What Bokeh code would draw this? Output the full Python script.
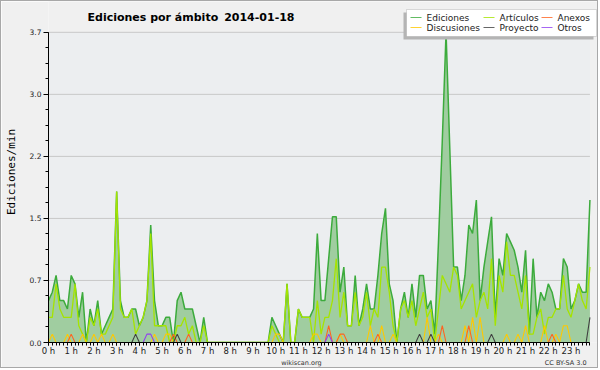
import numpy as np
from bokeh.plotting import figure
from bokeh.models import (FixedTicker, PrintfTickFormatter, Label, BoxAnnotation,
                          ColumnDataSource, LinearAxis)
from bokeh.embed import file_html
from bokeh.resources import INLINE

# ---------------- data (edits per minute, 10-minute bins) ----------------
title_text = "Ediciones por ámbito"
title_date = "2014-01-18"
y_label_text = "Ediciones/min"
credit_texts = ["wikiscan.org", "CC BY-SA 3.0"]
hour_labels = ["0 h", "1 h", "2 h", "3 h", "4 h", "5 h", "6 h", "7 h", "8 h", "9 h",
               "10 h", "11 h", "12 h", "13 h", "14 h", "15 h", "16 h", "17 h", "18 h",
               "19 h", "20 h", "21 h", "22 h", "23 h"]
y_tick_values = [0.0, 0.74, 1.48, 2.22, 2.96, 3.7]

ediciones = [
    0.5, 0.6, 0.8, 0.5, 0.5, 0.4,   # 0 h
    0.8, 0.7, 0.3, 0.6, 0.0, 0.4,   # 1 h
    0.2, 0.5, 0.1, 0.2, 0.3, 0.4,   # 2 h
    1.8, 0.5, 0.3, 0.3, 0.4, 0.4,   # 3 h
    0.2, 0.3, 0.5, 1.4, 0.5, 0.2,   # 4 h
    0.2, 0.3, 0.3, 0.0, 0.5, 0.6,   # 5 h
    0.4, 0.4, 0.4, 0.2, 0.0, 0.3,   # 6 h
    0.0, 0.0, 0.0, 0.0, 0.0, 0.0,   # 7 h
    0.0, 0.0, 0.0, 0.0, 0.0, 0.0,   # 8 h
    0.0, 0.0, 0.0, 0.0, 0.0, 0.3,   # 9 h
    0.2, 0.1, 0.0, 0.7, 0.0, 0.0,   # 10 h
    0.4, 0.3, 0.3, 0.3, 0.4, 1.3,   # 11 h
    0.5, 0.5, 1.0, 1.5, 1.5, 0.6,   # 12 h
    0.9, 0.2, 0.2, 0.8, 0.2, 0.4,   # 13 h
    0.7, 0.4, 0.4, 0.8, 1.3, 1.6,   # 14 h
    0.7, 0.5, 0.0, 0.4, 0.6, 0.3,   # 15 h
    0.7, 0.3, 0.8, 0.8, 0.4, 0.5,   # 16 h
    0.1, 1.2, 2.4, 3.7, 2.3, 0.9,   # 17 h
    0.9, 0.5, 0.8, 1.4, 1.3, 1.7,   # 18 h
    0.5, 0.9, 1.2, 1.5, 0.3, 1.0,   # 19 h
    0.8, 1.3, 1.2, 1.1, 0.9, 0.6,   # 20 h
    1.1, 0.1, 1.0, 0.3, 0.6, 0.5,   # 21 h
    0.7, 0.6, 0.4, 0.4, 1.0, 0.9,   # 22 h
    0.4, 0.5, 0.7, 0.6, 0.6, 1.7,   # 23 h
]

articulos = [
    0.3, 0.3, 0.7, 0.4, 0.3, 0.3,   # 0 h
    0.3, 0.7, 0.2, 0.1, 0.0, 0.3,   # 1 h
    0.2, 0.4, 0.1, 0.1, 0.2, 0.3,   # 2 h
    1.8, 0.4, 0.3, 0.3, 0.4, 0.1,   # 3 h
    0.2, 0.3, 0.5, 1.3, 0.2, 0.2,   # 4 h
    0.2, 0.2, 0.0, 0.0, 0.2, 0.2,   # 5 h
    0.3, 0.1, 0.2, 0.0, 0.0, 0.2,   # 6 h
    0.0, 0.0, 0.0, 0.0, 0.0, 0.0,   # 7 h
    0.0, 0.0, 0.0, 0.0, 0.0, 0.0,   # 8 h
    0.0, 0.0, 0.0, 0.0, 0.0, 0.2,   # 9 h
    0.1, 0.0, 0.0, 0.7, 0.0, 0.0,   # 10 h
    0.4, 0.3, 0.3, 0.3, 0.0, 0.5,   # 11 h
    0.1, 0.3, 0.3, 0.5, 1.0, 0.3,   # 12 h
    0.6, 0.2, 0.2, 0.6, 0.2, 0.3,   # 13 h
    0.6, 0.2, 0.4, 0.3, 0.9, 0.9,   # 14 h
    0.6, 0.2, 0.0, 0.4, 0.5, 0.3,   # 15 h
    0.5, 0.2, 0.4, 0.6, 0.3, 0.4,   # 16 h
    0.0, 0.4, 0.8, 0.7, 0.6, 0.9,   # 17 h
    0.8, 0.4, 0.5, 0.6, 0.7, 0.3,   # 18 h
    0.5, 0.6, 0.4, 1.0, 0.2, 0.8,   # 19 h
    0.6, 1.2, 0.8, 0.8, 0.6, 0.4,   # 20 h
    0.8, 0.1, 0.1, 0.3, 0.4, 0.1,   # 21 h
    0.3, 0.3, 0.4, 0.4, 0.8, 0.4,   # 22 h
    0.3, 0.5, 0.7, 0.5, 0.4, 0.9,   # 23 h
]

# sparse series: {bin index: edits/min}, all other bins are zero
discusiones_bins = {1: 0.1, 5: 0.1, 9: 0.1, 12: 0.1, 14: 0.1, 17: 0.1, 28: 0.1, 31: 0.1,
                    32: 0.1, 60: 0.1, 61: 0.1, 70: 0.1, 71: 0.1, 77: 0.1, 85: 0.2, 88: 0.2,
                    91: 0.1, 100: 0.3, 103: 0.1, 110: 0.2, 112: 0.3, 114: 0.3, 121: 0.1,
                    124: 0.1, 126: 0.2, 131: 0.2, 134: 0.1, 136: 0.2, 137: 0.2}
anexos_bins = {6: 0.1, 33: 0.1, 37: 0.1, 74: 0.2, 77: 0.1, 78: 0.1, 87: 0.1, 104: 0.2,
               111: 0.2, 133: 0.1}
proyecto_bins = {23: 0.1, 34: 0.1, 98: 0.1, 101: 0.1, 117: 0.1, 143: 0.3}
otros_bins = {26: 0.1, 27: 0.1, 74: 0.1}

n_bins = len(ediciones)
minutes = np.arange(n_bins) * 10
x_last = int(minutes[-1])
y_max = y_tick_values[-1]


def dense(d):
    arr = np.zeros(n_bins)
    for k, v in d.items():
        arr[k] = v
    return arr


discusiones = dense(discusiones_bins)
anexos = dense(anexos_bins)
proyecto = dense(proyecto_bins)
otros = dense(otros_bins)

# ---------------- layout (page pixels of the reference) ----------------
W, H = 598, 368            # canvas; a 1px CSS border completes 600x370
PX_LEFT, PX_RIGHT = 46, 589.4   # x of first / last bin
PY_ZERO, PY_TOP = 344, 32       # y of 0 and of y_max
frame_w = W + 1 - PX_LEFT       # frame reaches the right edge of the canvas
frame_h = PY_ZERO - 1           # frame reaches the top edge of the canvas
x_end = x_last * frame_w / (PX_RIGHT - PX_LEFT)
y_end = y_max * frame_h / (PY_ZERO - PY_TOP)

C_ED = "#3cab3c"
C_ED_FILL = "#a0cda0"
C_ART = "#a5e400"
C_DIS = "#ffc800"
C_ANE = "#ff6420"
C_PRO = "#404040"
C_OTR = "#9040f0"
C_BORDER = "#f0f0f0"
C_PLOT = "#eceef0"
FONT = "DejaVu Sans"

p = figure(width=W, height=H, output_backend="svg", toolbar_location=None,
           x_range=(0, x_end), y_range=(0, y_end),
           min_border_left=PX_LEFT - 1, min_border_right=0, min_border_top=0,
           min_border_bottom=H - frame_h,
           background_fill_color=C_BORDER, border_fill_color=C_BORDER,
           outline_line_color=None)
p.styles = {"border": "1px solid #a8a8a8"}

# plot area background and horizontal grid lines, limited to the data area
p.add_layout(BoxAnnotation(left=0, right=x_last, bottom=0, top=y_max, fill_color=C_PLOT,
                           fill_alpha=1.0, line_color=None, level="image"))
p.xgrid.visible = False
p.ygrid.visible = False
p.segment(x0=[0] * 5, x1=[x_last] * 5, y0=y_tick_values[1:], y1=y_tick_values[1:],
          line_color="#c8c8c8", line_width=1, level="underlay")

src = ColumnDataSource(dict(x=minutes, ed=ediciones, art=articulos, dis=discusiones,
                            ane=anexos, pro=proyecto, otr=otros))

p.varea(x="x", y1=0, y2="ed", source=src, fill_color=C_ED_FILL, fill_alpha=1.0)
p.line(x="x", y="ed", source=src, line_color=C_ED, line_width=1.5)
p.line(x="x", y="art", source=src, line_color=C_ART, line_width=1.3)
p.line(x="x", y="dis", source=src, line_color=C_DIS, line_width=1.1)
p.line(x="x", y="ane", source=src, line_color=C_ANE, line_width=1.1)
p.line(x="x", y="pro", source=src, line_color=C_PRO, line_width=1.1)
p.line(x="x", y="otr", source=src, line_color=C_OTR, line_width=1.1)

# x axis
p.xaxis.bounds = (0, x_last)
p.xaxis.ticker = FixedTicker(ticks=[int(m) for m in minutes[::6]],
                             minor_ticks=[int(m) for m in minutes])
p.xaxis.major_label_overrides = {int(m): lbl for m, lbl in zip(minutes[::6], hour_labels)}
p.xaxis.major_tick_in = 0
p.xaxis.major_tick_out = 3
p.xaxis.minor_tick_in = 0
p.xaxis.minor_tick_out = 3
p.xaxis.major_label_standoff = 0
p.xaxis.major_label_text_font = FONT
p.xaxis.major_label_text_font_size = "8.5px"
p.xaxis.major_label_text_color = "#222222"
p.xaxis.axis_line_color = "black"

# credits line under the hour labels (an axis with text-only labels)
credit_pos = [668, 1366]
credit_axis = LinearAxis(ticker=FixedTicker(ticks=credit_pos),
                         major_label_overrides=dict(zip(credit_pos, credit_texts)),
                         axis_line_color=None, major_tick_line_color=None,
                         minor_tick_line_color=None, major_tick_in=0, major_tick_out=0,
                         major_label_standoff=0, major_label_text_font=FONT,
                         major_label_text_font_size="6.5px", major_label_text_color="#333333")
p.add_layout(credit_axis, "below")

# y axis
minor_y = [y_max * k / 20 for k in range(21)]
p.yaxis.bounds = (0, y_max)
p.yaxis.ticker = FixedTicker(ticks=y_tick_values, minor_ticks=minor_y)
p.yaxis.formatter = PrintfTickFormatter(format="%.1f")
p.yaxis.major_tick_in = 0
p.yaxis.major_tick_out = 5
p.yaxis.minor_tick_in = 0
p.yaxis.minor_tick_out = 3
p.yaxis.major_label_standoff = 2
p.yaxis.major_label_text_font = FONT
p.yaxis.major_label_text_font_size = "7.5px"
p.yaxis.major_label_text_color = "#222222"
p.yaxis.axis_line_color = "black"
p.yaxis.axis_label = y_label_text
p.yaxis.axis_label_text_font = "DejaVu Sans Mono"
p.yaxis.axis_label_text_font_size = "11px"
p.yaxis.axis_label_text_font_style = "normal"
p.yaxis.axis_label_text_color = "black"
p.yaxis.axis_label_standoff = 9

# ---------------- title & legend (screen units relative to the frame) ----------------


def sx(px):
    return px - PX_LEFT


def sy(py):
    return PY_ZERO - py


p.add_layout(Label(x=sx(85), y=sy(18.5), x_units="screen", y_units="screen", text=title_text,
                   text_font=FONT, text_font_size="11px", text_font_style="bold",
                   text_align="left", text_baseline="alphabetic", text_color="black"))
p.add_layout(Label(x=sx(292), y=sy(18.5), x_units="screen", y_units="screen", text=title_date,
                   text_font=FONT, text_font_size="11px", text_font_style="bold",
                   text_align="right", text_baseline="alphabetic", text_color="black"))


def screen_box(l, r, t, b, **kw):
    return BoxAnnotation(left=sx(l), right=sx(r), top=sy(t), bottom=sy(b),
                         left_units="screen", right_units="screen", top_units="screen",
                         bottom_units="screen", **kw)


p.add_layout(screen_box(401, 591, 14, 41, fill_color="#b4b4b4", fill_alpha=1.0, line_color=None))
p.add_layout(screen_box(404, 594, 11, 38, fill_color="white", fill_alpha=1.0,
                        line_color="#8a8a8a", line_width=1))

legend_items = [("Ediciones", C_ED, 408, 19), ("Artículos", C_ART, 481, 19),
                ("Anexos", C_ANE, 539, 19), ("Discusiones", C_DIS, 408, 29),
                ("Proyecto", C_PRO, 481, 29), ("Otros", C_OTR, 539, 29)]
for name, col, lx, ly in legend_items:
    p.add_layout(screen_box(lx, lx + 11, ly - 0.5, ly + 0.5, fill_color=col, fill_alpha=0.8,
                            line_color=None))
    p.add_layout(Label(x=sx(lx + 16), y=sy(ly), x_units="screen", y_units="screen", text=name,
                       text_font=FONT, text_font_size="9px",
                       text_align="left", text_baseline="middle", text_color="#222222"))

open("out.html", "w").write(file_html(p, INLINE))
